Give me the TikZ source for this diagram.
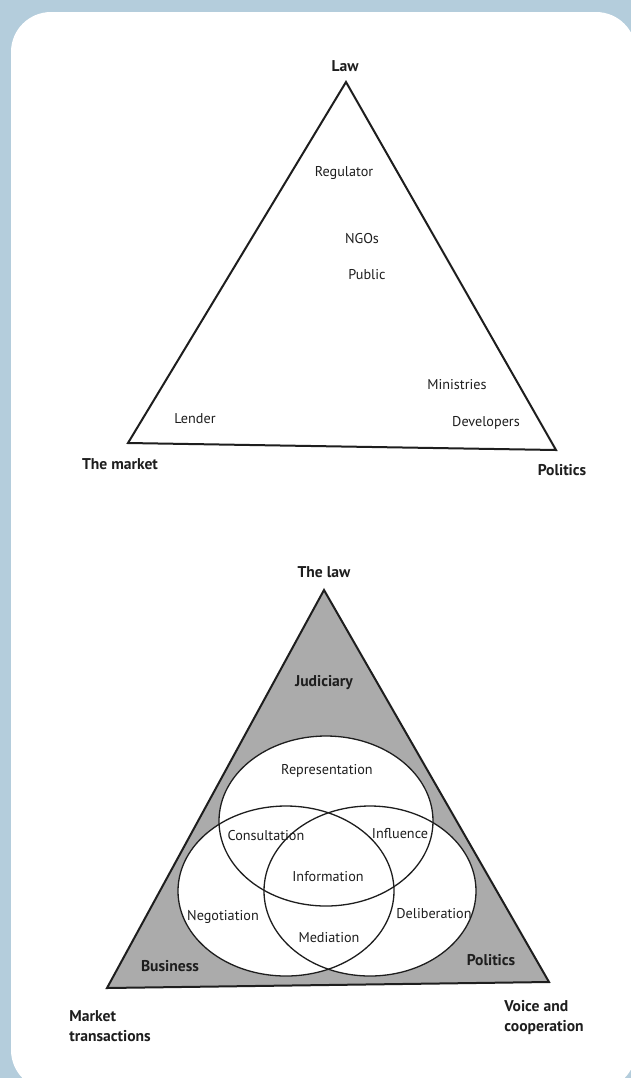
\documentclass[tikz,border=0pt]{standalone}
\usepackage{fontspec}
\setmainfont{PT Sans}
\definecolor{panelblue}{HTML}{B4CDDC}
\definecolor{areagray}{HTML}{ABABAB}
\definecolor{ink}{HTML}{1E1E1E}
\begin{document}
\begin{tikzpicture}[x=0.5pt,y=-0.5pt,
  lbl/.style={text=ink,font=\fontsize{7.1}{8.5}\selectfont,inner sep=0pt},
  corner/.style={text=ink,font=\fontsize{7.8}{10}\selectfont\bfseries,inner sep=0pt},
  edge/.style={draw=ink,line width=1pt,line join=miter},
  ring/.style={draw=ink,line width=0.65pt}]
\clip (0,0) rectangle (631,1078);
\useasboundingbox (0,0) rectangle (631,1078);
\fill[panelblue] (0,0) rectangle (631,1078);
\fill[white,rounded corners=20pt] (11,12) rectangle (636,1090);
% first triangle
\coordinate (t1) at (346,82);
\coordinate (t2) at (128,443);
\coordinate (t3) at (556,450);
\draw[edge] (t1)--(t2)--(t3)--cycle;
\node[corner] (law) at (345,66) {Law};
\node[corner] (market) at (120,464) {The market};
\node[corner] (politics) at (562,470) {Politics};
\node[lbl] (regulator) at (344,173) {Regulator};
\node[lbl] (ngos) at (362,239) {NGOs};
\node[lbl] (public) at (367,275) {Public};
\node[lbl] (ministries) at (457,385) {Ministries};
\node[lbl] (lender) at (195,419) {Lender};
\node[lbl] (developers) at (486,423) {Developers};
% second triangle
\coordinate (b1) at (324,590);
\coordinate (b2) at (107,988);
\coordinate (b3) at (549,982);
\fill[areagray] (b1)--(b2)--(b3)--cycle;
\coordinate (ctop) at (326,821);
\coordinate (cleft) at (286,891);
\coordinate (cright) at (370,891);
\fill[white] (ctop) ellipse (107 and 85);
\fill[white] (cleft) ellipse (108 and 85);
\fill[white] (cright) ellipse (106 and 85);
\draw[ring] (ctop) ellipse (107 and 85);
\draw[ring] (cleft) ellipse (108 and 85);
\draw[ring] (cright) ellipse (106 and 85);
\draw[edge] (b1)--(b2)--(b3)--cycle;
\node[corner] (thelaw) at (324,572) {The law};
\node[corner] (judiciary) at (324,683) {Judiciary};
\node[corner] (business) at (170,966) {Business};
\node[corner] (politicsb) at (491,960) {Politics};
\node[corner,align=left,anchor=west] (transactions) at (69,1026) {Market\\transactions};
\node[corner,align=left,anchor=west] (voice) at (504,1017) {Voice and\\cooperation};
\node[lbl] (representation) at (327,771) {Representation};
\node[lbl] (consultation) at (266,836) {Consultation};
\node[lbl] (influence) at (400,834) {Influence};
\node[lbl] (information) at (328,877) {Information};
\node[lbl] (negotiation) at (223,917) {Negotiation};
\node[lbl] (deliberation) at (434,914) {Deliberation};
\node[lbl] (mediation) at (329,938) {Mediation};
\end{tikzpicture}
\end{document}
